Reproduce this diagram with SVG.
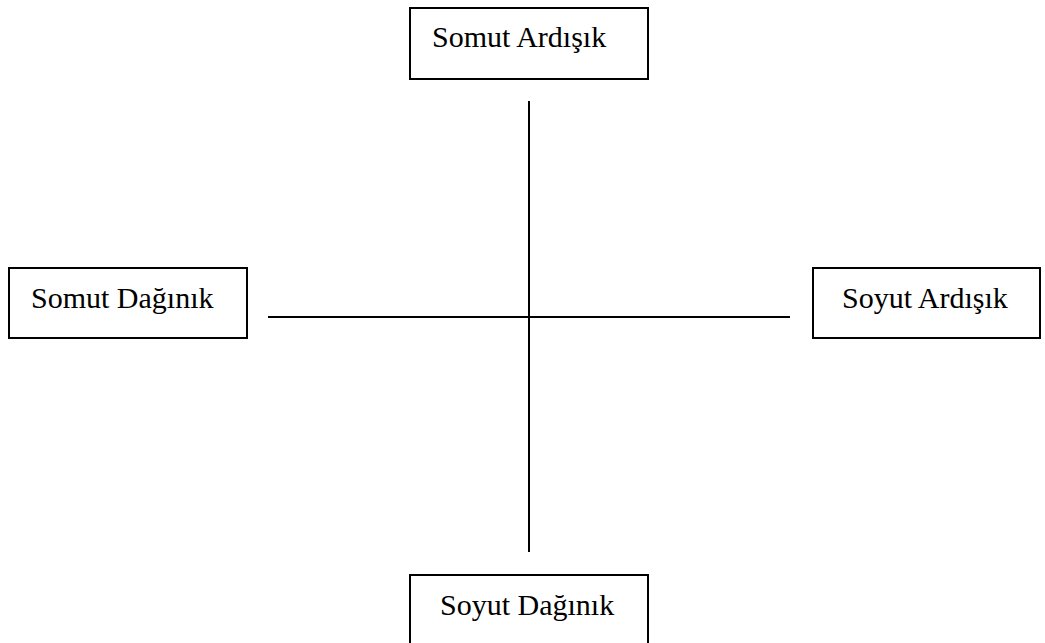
<svg xmlns="http://www.w3.org/2000/svg" width="1045" height="643" viewBox="0 0 1045 643">
<style>
.box{fill:#fff;stroke:#000;stroke-width:2}
.lbl{font-family:"Liberation Serif","Times New Roman",serif;font-size:30px;fill:#000}
.ln{stroke:#000;stroke-width:2;fill:none}
</style>
<rect width="1045" height="643" fill="#fff"/>
<g id="connectors">
<line class="ln" x1="529" y1="101" x2="529" y2="552"/>
<line class="ln" x1="268" y1="317" x2="790" y2="317"/>
</g>
<g id="somut-ardisik">
<rect class="box" x="410" y="8" width="238" height="71"/>
<text class="lbl" x="432" y="47">Somut Ardışık</text>
</g>
<g id="somut-daginik">
<rect class="box" x="9" y="268" width="238" height="70"/>
<text class="lbl" x="31" y="308">Somut Dağınık</text>
</g>
<g id="soyut-ardisik">
<rect class="box" x="813" y="268" width="227" height="70"/>
<text class="lbl" x="842" y="308">Soyut Ardışık</text>
</g>
<g id="soyut-daginik">
<rect class="box" x="410" y="575" width="238" height="80"/>
<text class="lbl" x="440" y="615">Soyut Dağınık</text>
</g>
</svg>
